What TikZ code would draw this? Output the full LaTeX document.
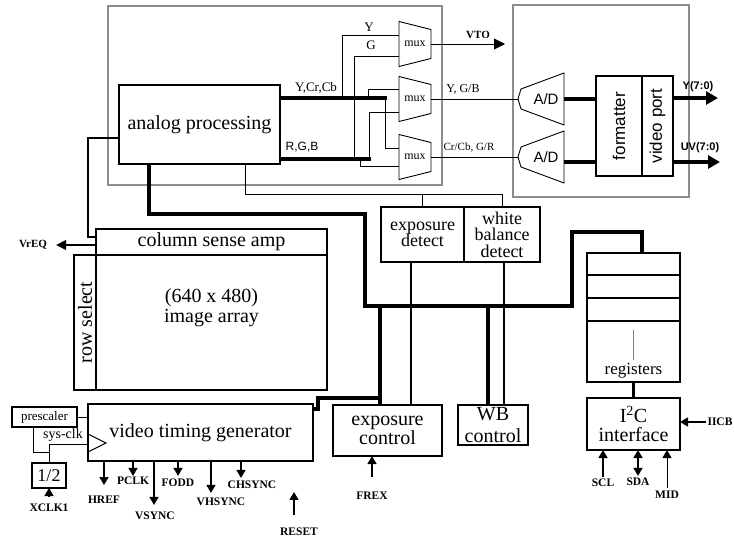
\documentclass[tikz,border=0pt]{standalone}
\usepackage{fontspec}
\setmainfont{Liberation Serif}
\setsansfont{Liberation Sans}
\usetikzlibrary{arrows.meta,positioning}
\tikzset{
  block/.style={draw, line width=1.1pt, inner sep=0pt, outer sep=0pt, align=center,
    font=\fontsize{20}{17}\selectfont},
  frame/.style={draw=black!45, line width=1.1pt},
  wire/.style={draw, line width=0.9pt},
  midwire/.style={draw, line width=1.6pt},
  bus/.style={draw, line width=4pt},
  mainbus/.style={draw, line width=3.6pt},
  sig/.style={draw, line width=1.4pt, ->},
  pin/.style={font=\bfseries\fontsize{11.5}{11.5}\selectfont, inner sep=0pt},
  tag/.style={font=\fontsize{12}{12}\selectfont, inner sep=0pt},
  muxbox/.style={inner sep=0pt, outer sep=0pt, minimum width=32pt, minimum height=45pt,
    font=\fontsize{12}{12}\selectfont},
  adcbox/.style={inner sep=0pt, font=\sffamily\fontsize{15}{15}\selectfont}
}
\newcommand{\muxshape}[1]{\draw[wire] (#1.north west) -- ([yshift=-8pt]#1.north east)
  -- ([yshift=8pt]#1.south east) -- (#1.south west) -- cycle;}
\newcommand{\adcshape}[1]{\draw[wire] ([shift={(-25pt,10pt)}]#1.center) -- ([shift={(18pt,26pt)}]#1.center)
  -- ([shift={(18pt,-26pt)}]#1.center) -- ([shift={(-25pt,-10pt)}]#1.center)
  -- ([xshift=-28pt]#1.center) -- cycle;
  \coordinate (#1-in) at ([xshift=-28pt]#1.center);
  \coordinate (#1-out) at ([xshift=18pt]#1.center);}

\begin{document}
\begin{tikzpicture}[x=1pt, y=-1pt, >={Triangle[length=8pt,width=9pt]}]
  \useasboundingbox (0,0) rectangle (734,540);

  % analog front end and output section
  \draw[frame] (108,6) rectangle (442,185);
  \draw[frame] (513,5) rectangle (689,197);

  \node[block, minimum width=161pt, minimum height=79pt] (analog) at (199.5,124.5) {analog processing};
  \node[muxbox] (mux1) at (415,44) {mux};
  \node[muxbox] (mux2) at (415,99) {mux};
  \node[muxbox] (mux3) at (415,157) {mux};
  \muxshape{mux1}
  \muxshape{mux2}
  \muxshape{mux3}

  \coordinate (busA) at (387,98);
  \coordinate (busB) at (371,159);
  \draw[bus] (analog.east |- busA) -- (busA);
  \draw[bus] (analog.east |- busB) -- (busB);
  \node[tag, font=\fontsize{13}{13}\selectfont] (ycrcb) at (316,88) {Y,Cr,Cb};
  \node[tag, font=\sffamily\fontsize{12}{12}\selectfont] (rgb) at (302,147) {R,G,B};

  \draw[wire] (342,0 |- busA) |- ([yshift=9pt]mux1.west);
  \draw[wire] (354,0 |- busB) |- ([yshift=-12pt]mux1.west);
  \draw[wire] (368,0 |- busA) |- ([yshift=10pt]mux2.west);
  \draw[wire] (369,0 |- busB) |- ([yshift=-13pt]mux2.west);
  \draw[wire] (385,0 |- busA) |- ([yshift=9pt]mux3.west);
  \draw[wire] (360,0 |- busB) |- ([yshift=-9pt]mux3.west);
  \node[tag, font=\fontsize{13}{13}\selectfont] (ylab) at (369,27) {Y};
  \node[tag, font=\fontsize{13}{13}\selectfont] (glab) at (371,45) {G};

  \coordinate (vto) at (505,44);
  \draw[wire, -{Triangle[length=11pt,width=11pt]}] (mux1.east) -- (vto);
  \node[pin, font=\bfseries\fontsize{11}{11}\selectfont] (vtolab) at (478,35) {VTO};

  \node[adcbox] (adc1) at (546,99) {A/D};
  \node[adcbox] (adc2) at (546,157) {A/D};
  \adcshape{adc1}
  \adcshape{adc2}
  \draw[wire] (mux2.east) -- (adc1-in);
  \draw[wire] (mux3.east) -- (adc2-in);
  \node[tag] (yglab) at (463,89) {Y, G/B};
  \node[tag, font=\fontsize{11}{11}\selectfont] (cglab) at (469,148) {Cr/Cb, G/R};

  \node[block, font=\sffamily\fontsize{17}{17}\selectfont, minimum width=46pt, minimum height=100pt]
    (fmt) at (619,126) {\rotatebox{90}{formatter}};
  \node[block, font=\sffamily\fontsize{17}{17}\selectfont, minimum width=31pt, minimum height=100pt,
    right=0pt of fmt] (vport) {\rotatebox{90}{video port}};
  \draw[bus] (adc1-out) -- (adc1-out -| fmt.west);
  \draw[bus] ([yshift=-5pt]adc2-out) -- ([yshift=-5pt]adc2-out -| fmt.west);

  \coordinate (yport) at (718,98);
  \coordinate (uvport) at (720,162);
  \draw[bus, -{Triangle[length=12pt,width=13pt]}] (vport.east |- yport) -- (yport);
  \draw[bus, -{Triangle[length=12pt,width=13pt]}] (vport.east |- uvport) -- (uvport);
  \node[pin, font=\sffamily\bfseries\fontsize{11}{11}\selectfont] (ylab8) at (698,87) {Y(7:0)};
  \node[pin, font=\sffamily\bfseries\fontsize{11}{11}\selectfont] (uvlab8) at (700,148) {UV(7:0)};

  % detect blocks
  \node[block, font=\fontsize{18}{16.5}\selectfont, minimum width=83pt, minimum height=55pt]
    (expd) at (422.5,234.5) {exposure\\detect};
  \node[block, font=\fontsize{18}{16.5}\selectfont, minimum width=76pt, minimum height=55pt,
    right=0pt of expd] (wbd) {white\\balance\\detect};
  \coordinate (sumtap) at (245,194);
  \draw[wire] (analog.south -| sumtap) -- (sumtap) -| (wbd.north);
  \draw[wire] (expd.north |- sumtap) -- (expd.north);

  % sensor array
  \node[block, minimum width=231pt, minimum height=135pt] (arr) at (211.5,322.5) {};
  \node[align=center, inner sep=0pt, font=\fontsize{20}{20}\selectfont] (arrtext) at (211.5,308)
    {(640 x 480)\\image array};
  \node[block, minimum width=231pt, minimum height=26pt, above=0pt of arr] (csa) {column sense amp};
  \node[block, minimum width=22pt, minimum height=135pt, left=0pt of arr] (rowsel) {\rotatebox{90}{row select}};

  \draw[midwire] (analog.west |- 0,138) -- (88,138) |- (csa.west |- 0,237);
  \node[pin, font=\bfseries\fontsize{11}{11}\selectfont] (vreq) at (33,245) {VrEQ};
  \draw[sig, -{Triangle[length=10pt,width=10pt]}, shorten >=9pt] (csa.west |- vreq.east) -- (vreq.east);

  % control blocks
  \node[block, minimum width=109pt, minimum height=51pt] (expc) at (387.5,430.5) {exposure\\control};
  \node[block, font=\fontsize{20}{22}\selectfont, minimum width=70pt, minimum height=40pt]
    (wbc) at (493,425) {WB\\control};

  \node[block, minimum width=93pt, minimum height=22pt] (reg1) at (633.5,264) {};
  \node[block, minimum width=93pt, minimum height=23pt, below=0pt of reg1] (reg2) {};
  \node[block, minimum width=93pt, minimum height=23pt, below=0pt of reg2] (reg3) {};
  \node[block, minimum width=93pt, minimum height=61pt, below=0pt of reg3] (reg4) {};
  \draw[draw=black!50, line width=0.8pt] ([yshift=-9pt]reg4.north) -- ([yshift=-39pt]reg4.north);
  \node[inner sep=0pt, font=\fontsize{17}{17}\selectfont] (regtext) at (633.5,371) {registers};

  \node[block, font=\fontsize{20}{19}\selectfont, minimum width=93pt, minimum height=52pt]
    (i2c) at (633.5,424) {I\textsuperscript{2}C\\interface};
  \draw[mainbus] (reg4.south) -- (i2c.north);

  \coordinate (hub) at (365,306);
  \draw[mainbus] (analog.south -| 149,0) |- (365,214) -- (hub) -- (572,306) |- (642,232)
    -- (reg1.north -| 642,0);
  \draw[mainbus] (380,0 |- hub) -- (expc.north -| 380,0);
  \draw[mainbus] (488,0 |- hub) -- (wbc.north -| 488,0);
  \draw[wire, line width=1.1pt] (expd.south -| 411,0) -- (expc.north -| 411,0);
  \draw[wire, line width=1.1pt] (wbd.south -| 504,0) -- (wbc.north -| 504,0);

  % timing
  \node[block, minimum width=225pt, minimum height=57pt] (vtg) at (200.5,432.5) {video timing generator};
  \draw[wire, line width=1.1pt] (vtg.west |- 0,434) -- (106,443) -- (vtg.west |- 0,452);
  \draw[mainbus] (380,398) -| (318,409) -- (vtg.east |- 318,409);

  \node[block, font=\fontsize{13}{13}\selectfont, minimum width=65pt, minimum height=20pt]
    (pre) at (44.5,417) {prescaler};
  \draw[wire] (pre.east) -- (pre.east -| vtg.west);
  \node[block, font=\fontsize{18}{18}\selectfont, minimum width=34pt, minimum height=25pt]
    (half) at (49,475.5) {1/2};
  \coordinate (clkjoin) at (49,452);
  \draw[wire] (pre.south -| 33,0) |- (clkjoin);
  \draw[wire] (half.north) |- (vtg.west |- 0,444);
  \node[inner sep=0pt, font=\fontsize{14}{14}\selectfont] (sysclk) at (63,435) {sys-clk};

  \node[pin] (xclk) at (49,508) {XCLK1};
  \draw[sig, shorten <=8pt] (xclk.north) -- (half.south);

  \node[pin] (href) at (104,500) {HREF};
  \node[pin] (pclk) at (133,481) {PCLK};
  \node[pin] (vsync) at (155,516) {VSYNC};
  \node[pin] (fodd) at (178,483) {FODD};
  \node[pin] (vhsync) at (221,502) {VHSYNC};
  \node[pin] (chsync) at (252,485) {CHSYNC};
  \node[pin] (reset) at (299,532) {RESET};
  \draw[sig, shorten >=11pt] (vtg.south -| href.north) -- (href.north);
  \draw[sig, shorten >=1pt] (vtg.south -| pclk.north) -- (pclk.north);
  \draw[sig, shorten >=7pt] (vtg.south -| 154,0) -- (154,0 |- vsync.north);
  \draw[sig, shorten >=3pt] (vtg.south -| fodd.north) -- (fodd.north);
  \draw[sig, shorten >=5pt] (vtg.south -| 211,0) -- (211,0 |- vhsync.north);
  \draw[sig, shorten >=3pt] (vtg.south -| 241,0) -- (241,0 |- chsync.north);
  \draw[sig] ([yshift=13pt]294,0 |- reset.north) -- ++(0,-23);

  % pins of the control blocks
  \node[pin] (frex) at (372,496) {FREX};
  \draw[sig, shorten <=15pt] (frex.north) -- (expc.south -| frex.north);
  \node[pin] (scl) at (603,483) {SCL};
  \draw[sig, shorten <=2pt] (scl.north) -- (i2c.south -| scl.north);
  \node[pin] (sda) at (638,482) {SDA};
  \draw[sig, <->, shorten <=2pt] (sda.north) -- (i2c.south -| sda.north);
  \node[pin] (mid) at (667,495) {MID};
  \draw[wire, ->, shorten <=3pt] (mid.north) -- (i2c.south -| mid.north);
  \node[pin] (iicb) at (720,422) {IICB};
  \draw[sig, shorten <=1pt] (iicb.west) -- (i2c.east |- iicb.west);
\end{tikzpicture}
\end{document}
